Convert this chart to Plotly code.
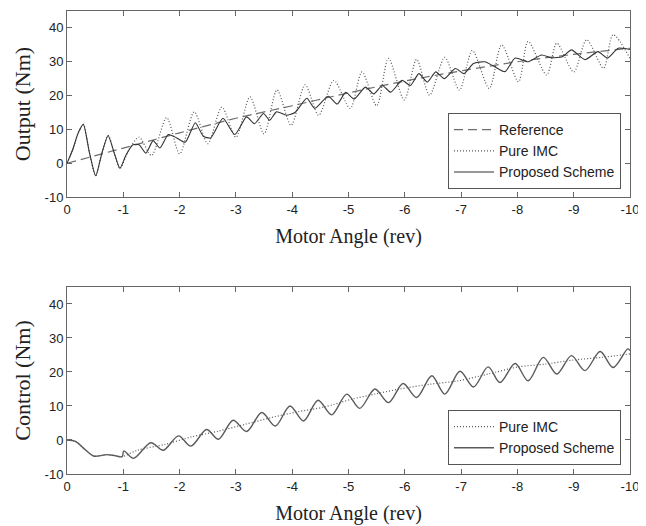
import plotly.graph_objects as go

# ---------------- data ----------------
# Top panel: output torque vs motor angle
ref_angle = [0, -1, -2, -3, -4, -5, -6, -7, -8, -9, -10]
ref_output = [0, 4.5, 9, 13.3, 17, 20.8, 24.3, 27.3, 30, 32.2, 34]

imc_out_angle = [0, -0.1, -0.2, -0.29, -0.4, -0.51, -0.62, -0.73, -0.84, -0.94,
                 -1.1, -1.28, -1.5, -1.77, -2.0, -2.26, -2.5, -2.75, -3.0, -3.25,
                 -3.5, -3.73, -3.98, -4.23, -4.47, -4.74, -5.03, -5.24, -5.5, -5.71,
                 -5.99, -6.21, -6.44, -6.71, -6.97, -7.2, -7.5, -7.72, -8.02, -8.19,
                 -8.52, -8.7, -9.0, -9.23, -9.53, -9.7, -10]
imc_output = [0, 4, 9, 11.5, 3, -3.7, 3, 8.2, 3, -1.5,
              4, 7.7, 2.3, 13.5, 2.8, 15.2, 5.8, 16.6, 7.7, 19.6,
              8.7, 21.7, 11.2, 23.2, 14.2, 24.5, 16.2, 27, 17, 31,
              18.7, 30.7, 20.1, 31.3, 21.6, 33.3, 22.1, 35, 24.1, 36,
              26.1, 35.5, 27, 36.5, 28.1, 38, 31]

prop_out_angle = [0, -0.1, -0.2, -0.29, -0.4, -0.51, -0.62, -0.73, -0.84, -0.94,
                  -1.05, -1.17, -1.28, -1.4, -1.53, -1.65, -1.8, -1.95, -2.1, -2.28,
                  -2.42, -2.55, -2.77, -2.98, -3.19, -3.33, -3.49, -3.6, -3.72, -3.9,
                  -4.05, -4.26, -4.4, -4.64, -4.8, -4.95, -5.1, -5.3, -5.45, -5.6,
                  -5.75, -5.95, -6.1, -6.25, -6.4, -6.55, -6.7, -6.9, -7.05, -7.22,
                  -7.42, -7.6, -7.78, -7.96, -8.19, -8.43, -8.6, -8.8, -8.96, -9.2,
                  -9.43, -9.6, -9.79, -10]
prop_output = [0, 4, 9, 11.5, 3, -3.7, 3, 8.2, 3, -1.5,
               2.5, 5.5, 5.5, 3, 6.7, 4.5, 8.5, 7.5, 6.2, 12,
               8, 7.5, 13.3, 8.5, 13.7, 11.7, 14.7, 12.7, 15.2, 14.2,
               15, 19.2, 16.2, 19.8, 17.5, 21, 19, 22.5, 20.5, 23,
               21, 24.5, 23, 26.5, 24, 27, 25, 28, 26.5, 29.5,
               30, 28.5, 27.1, 31.1, 30, 32, 31.2, 31.5, 33.5, 30.6,
               33, 31.1, 34, 33.6]

# Bottom panel: control torque vs motor angle
imc_ctl_angle = [0, -0.15, -0.32, -0.47, -0.6, -0.7, -0.85, -0.98, -1.25, -1.74,
                 -2.21, -2.69, -3.16, -3.63, -4.1, -4.57, -5.06, -5.47, -5.91, -6.45,
                 -6.95, -7.48, -8.02, -8.49, -8.99, -9.5, -10]
imc_control = [0, -0.4, -2.8, -4.7, -4.6, -4.3, -4.6, -4.9, -3.0, -1.3,
               0.9, 2.6, 4.6, 6.6, 8.3, 9.7, 12.0, 13.5, 15.0, 16.4,
               17.4, 19.4, 21.5, 22.3, 23.5, 24.3, 25.3]

prop_ctl_angle = [0, -0.15, -0.32, -0.47, -0.6, -0.7, -0.85, -0.98, -1.01, -1.18,
                  -1.49, -1.71, -1.98, -2.2, -2.48, -2.69, -2.95, -3.19, -3.46, -3.7,
                  -3.96, -4.2, -4.46, -4.7, -4.97, -5.2, -5.47, -5.71, -5.97, -6.21,
                  -6.48, -6.71, -6.98, -7.22, -7.48, -7.69, -7.96, -8.19, -8.46, -8.7,
                  -8.96, -9.2, -9.47, -9.7, -9.96, -10]
prop_control = [0, -0.4, -2.8, -4.7, -4.6, -4.3, -4.6, -4.9, -3.2, -5.4,
                -0.8, -3.0, 1.2, -1.8, 3.1, 0.2, 5.8, 2.5, 8.1, 4.1,
                10.0, 5.6, 11.7, 7.4, 13.5, 9.3, 15.0, 11.0, 16.6, 12.5,
                18.9, 13.5, 20.2, 15.6, 21.5, 16.9, 22.5, 17.4, 24.3, 19.4,
                24.8, 20.4, 26.0, 21.3, 26.8, 26.3]

x_tick_vals = [0, -1, -2, -3, -4, -5, -6, -7, -8, -9, -10]
x_tick_text = ["0", "-1", "-2", "-3", "-4", "-5", "-6", "-7", "-8", "-9", "-10"]
y_tick_vals = [-10, 0, 10, 20, 30, 40]
y_tick_text = ["-10", "0", "10", "20", "30", "40"]

# ---------------- figure ----------------
SANS = "Liberation Sans, Arial, sans-serif"
SERIF = "Liberation Serif, Times New Roman, serif"

fig = go.Figure()

fig.add_trace(go.Scatter(
    x=ref_angle, y=ref_output, name="Reference", mode="lines",
    line=dict(color="#6e6e6e", width=1.2, dash="9px,5px", shape="spline"),
    xaxis="x", yaxis="y", legend="legend"))
fig.add_trace(go.Scatter(
    x=imc_out_angle, y=imc_output, name="Pure IMC", mode="lines",
    line=dict(color="#555555", width=1.2, dash="1px,2px", shape="spline", smoothing=0.8),
    xaxis="x", yaxis="y", legend="legend"))
fig.add_trace(go.Scatter(
    x=prop_out_angle, y=prop_output, name="Proposed Scheme", mode="lines",
    line=dict(color="#333333", width=1.1, shape="spline", smoothing=0.6),
    xaxis="x", yaxis="y", legend="legend"))

fig.add_trace(go.Scatter(
    x=imc_ctl_angle, y=imc_control, name="Pure IMC", mode="lines",
    line=dict(color="#5a5a5a", width=1.2, dash="1px,2px", shape="spline", smoothing=0.8),
    xaxis="x2", yaxis="y2", legend="legend2"))
fig.add_trace(go.Scatter(
    x=prop_ctl_angle, y=prop_control, name="Proposed Scheme", mode="lines",
    line=dict(color="#5a5a5a", width=1.4, shape="spline", smoothing=0.9),
    xaxis="x2", yaxis="y2", legend="legend2"))

axis_common = dict(
    showline=True, linecolor="#666666", linewidth=1, mirror="ticks",
    ticks="inside", ticklen=5, tickcolor="#666666", tickwidth=1,
    showgrid=False, zeroline=False, automargin=False,
    tickfont=dict(family=SANS, size=13, color="#222222"),
)

xcommon = dict(axis_common, range=[0, -10], tickvals=x_tick_vals, ticktext=x_tick_text,
               title=dict(text="Motor Angle (rev)", font=dict(family=SERIF, size=20, color="#222222"),
                          standoff=13))
ycommon = dict(axis_common, range=[-10, 45], tickvals=y_tick_vals, ticktext=y_tick_text)

legend_common = dict(xanchor="right", yanchor="bottom",
                     bgcolor="white", bordercolor="#555555", borderwidth=1,
                     font=dict(family=SANS, size=14, color="#222222"),
                     itemwidth=40, tracegroupgap=0)

# the page body adds an 8 px offset, so margins are reduced accordingly
fig.update_layout(
    width=646, height=526,
    margin=dict(l=59, r=24, t=3, b=60),
    paper_bgcolor="white", plot_bgcolor="white",
    showlegend=True,
    xaxis=dict(xcommon, anchor="y", domain=[0, 1]),
    yaxis=dict(ycommon, anchor="x", domain=[0.598, 1],
               title=dict(text="Output (Nm)", font=dict(family=SERIF, size=22, color="#222222"),
                          standoff=7)),
    xaxis2=dict(xcommon, anchor="y2", domain=[0, 1]),
    yaxis2=dict(ycommon, anchor="x2", domain=[0, 0.404],
                title=dict(text="Control (Nm)", font=dict(family=SERIF, size=22, color="#222222"),
                           standoff=7)),
    legend=dict(legend_common, x=0.984, y=0.6156),
    legend2=dict(legend_common, x=0.984, y=0.0194),
)

fig.write_html("out.html")
